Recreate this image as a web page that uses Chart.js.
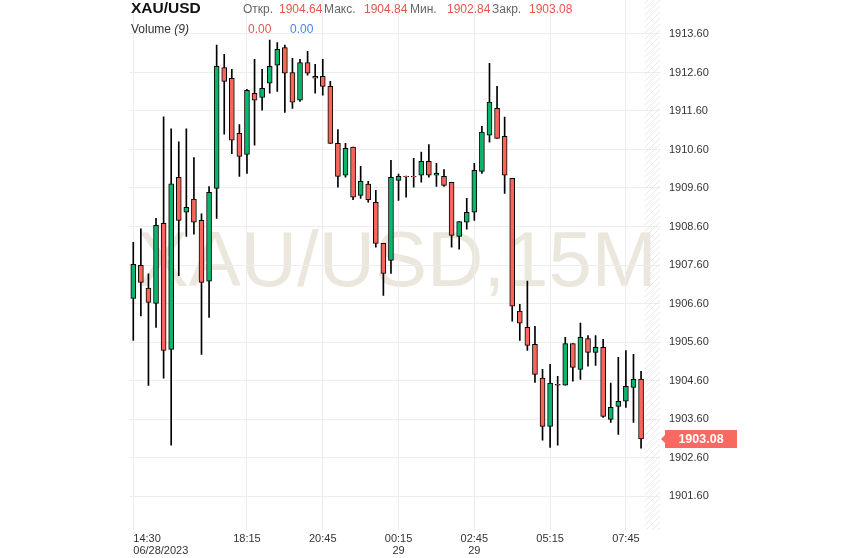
<!DOCTYPE html>
<html>
<head>
<meta charset="utf-8">
<script src="https://cdn.jsdelivr.net/npm/chart.js@4.4.0/dist/chart.umd.min.js"></script>
<style>
body { margin: 0; background: #fff; font-family: Arial, "Liberation Sans", sans-serif; }
#wrap { position: relative; width: 844px; height: 558px; }
canvas { position: absolute; left: 0; top: 0; }
.t { position: absolute; white-space: nowrap; font-size: 12px; line-height: 12px; color: #666; }
.red { color: #e4564d; }
.blue { color: #3f86f4; }
</style>
</head>
<body>
<div id="wrap">
  <canvas id="myChart" width="844" height="558"></canvas>
  <div class="t" style="left:131px;top:0px;font-size:15.5px;line-height:15.5px;font-weight:bold;color:#111">XAU/USD</div>
  <div class="t" style="left:243px;top:3px">Откр.</div>
  <div class="t red" id="vOpen" style="left:279px;top:3px"></div>
  <div class="t" style="left:324px;top:3px">Макс.</div>
  <div class="t red" id="vHigh" style="left:364px;top:3px"></div>
  <div class="t" style="left:410px;top:3px">Мин.</div>
  <div class="t red" id="vLow" style="left:447px;top:3px"></div>
  <div class="t" style="left:492px;top:3px">Закр.</div>
  <div class="t red" id="vClose" style="left:529px;top:3px"></div>
  <div class="t" style="left:131px;top:23px;color:#333">Volume <i>(9)</i></div>
  <div class="t red" style="left:248px;top:23px">0.00</div>
  <div class="t blue" style="left:290px;top:23px">0.00</div>
</div>
<script>
// 15 minute candles, XAU/USD
var times = [
    '14:30', '14:45', '15:00', '15:15', '15:30', '15:45', '16:00', '16:15', '16:30', '16:45',
    '17:00', '17:15', '17:30', '17:45', '18:00', '18:15', '18:30', '18:45', '19:00', '19:15',
    '19:30', '19:45', '20:00', '20:15', '20:30', '20:45', '21:00', '21:15', '21:30', '21:45',
    '22:00', '22:15', '22:30', '22:45', '00:00', '00:15', '00:30', '00:45', '01:00', '01:15',
    '01:30', '01:45', '02:00', '02:15', '02:30', '02:45', '03:00', '03:15', '03:30', '03:45',
    '04:00', '04:15', '04:30', '04:45', '05:00', '05:15', '05:30', '05:45', '06:00', '06:15',
    '06:30', '06:45', '07:00', '07:15', '07:30', '07:45', '08:00', '08:15', '08:30', '08:45'
];

var openP = [
    1906.73, 1907.59, 1907.00, 1906.60, 1908.68, 1905.41, 1909.88, 1908.97, 1909.31, 1908.76,
    1907.18, 1909.59, 1912.73, 1912.45, 1911.02, 1910.47, 1912.06, 1911.95, 1912.32, 1912.79,
    1913.25, 1912.60, 1911.88, 1912.86, 1912.50, 1912.50, 1912.24, 1910.76, 1909.93, 1910.66,
    1909.41, 1909.70, 1909.23, 1908.16, 1907.72, 1909.80, 1909.90, 1909.90, 1909.93, 1910.29,
    1909.93, 1909.90, 1909.75, 1908.34, 1908.71, 1908.97, 1910.03, 1910.97, 1911.67, 1910.94,
    1909.85, 1906.40, 1905.98, 1905.54, 1904.66, 1903.41, 1904.50, 1904.48, 1905.56, 1904.89,
    1905.69, 1905.33, 1905.46, 1903.59, 1903.93, 1904.06, 1904.42, 1904.64
];
var highP = [
    1908.19, 1908.54, 1907.37, 1908.81, 1911.45, 1911.14, 1910.80, 1911.14, 1910.39, 1908.93,
    1909.64, 1913.31, 1913.07, 1912.68, 1911.25, 1912.16, 1912.94, 1912.68, 1913.44, 1913.38,
    1913.31, 1912.97, 1912.94, 1913.15, 1912.81, 1912.94, 1912.37, 1911.12, 1910.76, 1910.66,
    1910.16, 1909.77, 1909.54, 1908.16, 1910.32, 1909.96, 1909.91, 1910.37, 1910.53, 1910.73,
    1910.24, 1910.08, 1909.75, 1908.73, 1909.33, 1910.24, 1911.20, 1912.84, 1912.24, 1911.44,
    1909.85, 1906.58, 1907.18, 1906.01, 1904.89, 1905.02, 1904.71, 1905.72, 1905.56, 1906.09,
    1905.77, 1905.77, 1905.67, 1904.53, 1905.20, 1905.38, 1905.28, 1904.84
];
var lowP = [
    1905.64, 1906.28, 1904.47, 1905.98, 1904.66, 1902.92, 1907.32, 1908.34, 1908.40, 1905.28,
    1906.24, 1908.81, 1911.00, 1910.49, 1909.90, 1909.98, 1910.71, 1911.62, 1912.06, 1912.11,
    1911.56, 1911.67, 1911.85, 1912.53, 1912.06, 1912.01, 1910.76, 1909.62, 1909.88, 1909.30,
    1909.33, 1909.23, 1908.06, 1906.81, 1907.38, 1909.28, 1909.36, 1909.62, 1909.75, 1909.88,
    1909.64, 1909.64, 1908.06, 1908.01, 1908.53, 1908.76, 1909.98, 1910.79, 1910.89, 1909.46,
    1906.14, 1905.64, 1905.38, 1904.55, 1903.05, 1902.86, 1902.92, 1904.48, 1904.58, 1904.63,
    1904.97, 1904.99, 1903.64, 1903.51, 1903.20, 1903.90, 1903.51, 1902.84
];
var closeP = [
    1907.62, 1907.15, 1906.63, 1908.63, 1905.38, 1909.71, 1908.76, 1909.10, 1908.71, 1907.15,
    1909.49, 1912.76, 1912.37, 1910.84, 1910.42, 1912.14, 1911.88, 1912.19, 1912.76, 1913.20,
    1912.58, 1911.83, 1912.86, 1912.58, 1912.45, 1912.24, 1910.76, 1909.90, 1910.63, 1909.36,
    1909.77, 1909.30, 1908.16, 1907.38, 1909.88, 1909.90, 1909.89, 1909.89, 1910.29, 1909.93,
    1909.98, 1909.67, 1908.37, 1908.73, 1908.97, 1910.06, 1911.05, 1911.83, 1910.89, 1909.93,
    1906.53, 1906.09, 1905.51, 1904.76, 1903.41, 1904.53, 1904.48, 1905.56, 1904.94, 1905.72,
    1905.33, 1905.46, 1903.67, 1903.90, 1904.06, 1904.45, 1904.63, 1903.08
];

var yTicks = [1901.6, 1902.6, 1903.6, 1904.6, 1905.6, 1906.6, 1907.6, 1908.6, 1909.6, 1910.6, 1911.6, 1912.6, 1913.6];
var xTickIdx = [0, 15, 25, 35, 45, 55, 65, 69];
var xTickSub = ['06/28/2023', '', '', '29', '29', '', '', ''];

var upColor = '#0cb56c';
var downColor = '#f8665b';
var last = closeP.length - 1;

document.getElementById('vOpen').textContent = openP[last].toFixed(2);
document.getElementById('vHigh').textContent = highP[last].toFixed(2);
document.getElementById('vLow').textContent = lowP[last].toFixed(2);
document.getElementById('vClose').textContent = closeP[last].toFixed(2);

var bodyColors = [];
for (let i = 0; i < openP.length; i++) {
    bodyColors[i] = closeP[i] >= openP[i] ? upColor : downColor;
}

// big faded symbol text behind the candles
var watermark = {
    id: 'watermark',
    beforeDraw: function (chart) {
        var a = chart.chartArea;
        var ctx = chart.ctx;
        ctx.save();
        ctx.font = '78px Arial, "Liberation Sans", sans-serif';
        ctx.fillStyle = '#ebe7dc';
        ctx.textAlign = 'center';
        ctx.textBaseline = 'alphabetic';
        ctx.fillText('XAU/USD,15M', (a.left + a.right) / 2 + 2, (a.top + a.bottom) / 2 + 21);
        ctx.restore();
    }
};

// striped area after the last candle
var futureZone = {
    id: 'futureZone',
    beforeDatasetsDraw: function (chart) {
        var a = chart.chartArea;
        var xs = chart.scales.x;
        var step = xs.getPixelForValue(1) - xs.getPixelForValue(0);
        var start = xs.getPixelForValue(last) + step / 2;
        var p = document.createElement('canvas');
        p.width = 6; p.height = 6;
        var pc = p.getContext('2d');
        pc.strokeStyle = '#e8e8e8';
        pc.lineWidth = 1;
        pc.beginPath();
        pc.moveTo(0, 6); pc.lineTo(6, 0);
        pc.stroke();
        var ctx = chart.ctx;
        ctx.save();
        ctx.fillStyle = ctx.createPattern(p, 'repeat');
        ctx.fillRect(start, a.top, a.right - start, a.bottom - a.top);
        ctx.restore();
    }
};

// last price tag on the right axis
var priceTag = {
    id: 'priceTag',
    afterDraw: function (chart) {
        var ctx = chart.ctx;
        var y = chart.scales.y.getPixelForValue(closeP[last]);
        var left = chart.chartArea.right + 5;
        var w = 72, h = 18;
        ctx.save();
        ctx.fillStyle = '#f86a61';
        ctx.beginPath();
        ctx.moveTo(left - 4, y);
        ctx.lineTo(left, y - 4);
        ctx.lineTo(left, y - h / 2);
        ctx.lineTo(left + w, y - h / 2);
        ctx.lineTo(left + w, y + h / 2);
        ctx.lineTo(left, y + h / 2);
        ctx.lineTo(left, y + 4);
        ctx.closePath();
        ctx.fill();
        ctx.fillStyle = '#fff';
        ctx.font = 'bold 12.5px Arial, "Liberation Sans", sans-serif';
        ctx.textAlign = 'center';
        ctx.textBaseline = 'middle';
        ctx.fillText(closeP[last].toFixed(2), left + w / 2, y + 1);
        ctx.restore();
    }
};

function createChart() {
    var ctx = document.getElementById('myChart').getContext('2d');
    var myChart = new Chart(ctx, {
        type: 'bar',
        data: {
            labels: times,
            datasets: [
                {
                    label: 'body',
                    data: openP.map(function (o, i) { return [o, closeP[i]]; }),
                    backgroundColor: bodyColors,
                    borderColor: '#000',
                    borderWidth: 1,
                    borderSkipped: false,
                    barThickness: 5,
                    grouped: false,
                    order: 0
                },
                {
                    label: 'wick',
                    data: lowP.map(function (l, i) { return [l, highP[i]]; }),
                    backgroundColor: '#000',
                    borderWidth: 0,
                    barThickness: 1,
                    grouped: false,
                    order: 1
                }
            ]
        },
        options: {
            responsive: false,
            animation: false,
            layout: { padding: { left: 129.5, top: 0, right: 0, bottom: 0 } },
            plugins: {
                legend: { display: false },
                tooltip: { enabled: false }
            },
            scales: {
                x: {
                    offset: true,
                    afterBuildTicks: function (s) {
                        s.ticks = xTickIdx.map(function (v) { return { value: v }; });
                    },
                    afterFit: function (s) {
                        s.height = 28;
                        s.paddingLeft = 0;
                        s.paddingRight = 0;
                    },
                    border: { display: false },
                    grid: {
                        offset: false,
                        drawTicks: false,
                        color: function (c) {
                            return c.index === xTickIdx.length - 1 ? 'rgba(0,0,0,0)' : '#ededed';
                        }
                    },
                    ticks: {
                        autoSkip: false,
                        maxRotation: 0,
                        align: 'inner',
                        padding: 3,
                        color: '#333',
                        font: { family: 'Arial, "Liberation Sans", sans-serif', size: 11, lineHeight: 1.1 },
                        callback: function (v, i) {
                            if (i === xTickIdx.length - 1) return '';
                            var t = times[xTickIdx[i]];
                            return xTickSub[i] ? [t, xTickSub[i]] : t;
                        }
                    }
                },
                y: {
                    position: 'right',
                    min: 1900.717,
                    max: 1914.483,
                    afterBuildTicks: function (s) {
                        s.ticks = yTicks.map(function (v) { return { value: v }; });
                    },
                    afterFit: function (s) {
                        s.width = 184;
                        s.paddingTop = 0;
                        s.paddingBottom = 0;
                    },
                    border: { display: false },
                    grid: { color: '#ededed', drawTicks: false },
                    ticks: {
                        padding: 9,
                        color: '#333',
                        font: { family: 'Arial, "Liberation Sans", sans-serif', size: 11 },
                        callback: function (v) { return Number(v).toFixed(2); }
                    }
                }
            }
        },
        plugins: [watermark, futureZone, priceTag]
    });
}
createChart();
</script>
</body>
</html>
